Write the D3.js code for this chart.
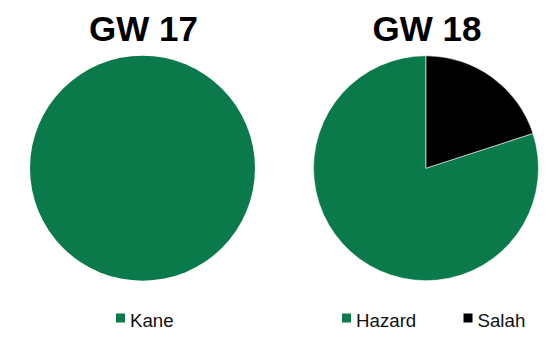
<!DOCTYPE html>
<html>
<head>
<meta charset="utf-8">
<script src="https://cdn.jsdelivr.net/npm/d3@7"></script>
<style>
  body { margin: 0; background: #fff; }
  text { font-family: "Liberation Sans", Arial, sans-serif; }
</style>
</head>
<body>
<div id="chart"></div>
<script>
// chart data
var titles = ["GW 17", "GW 18"];
var gw17Players = ["Kane"];
var gw17Values = [1];
var gw18Players = ["Hazard", "Salah"];
var gw18Values = [80, 20];

var colors = { "Kane": "#0b7a4a", "Hazard": "#0b7a4a", "Salah": "#000000" };

var width = 550, height = 347;
var svg = d3.select("#chart").append("svg")
    .attr("width", width)
    .attr("height", height);

// layout of each pie panel
var panels = [
    { title: titles[0], players: gw17Players, values: gw17Values, cx: 142.5, legendX: [116] },
    { title: titles[1], players: gw18Players, values: gw18Values, cx: 426, legendX: [342, 463.5] }
];
var cy = 168.2, radius = 112.5;

var arc = d3.arc().innerRadius(0).outerRadius(radius);

panels.forEach(function(p) {
    var g = svg.append("g");

    g.append("text")
        .attr("x", p.cx + 1)
        .attr("y", 41)
        .attr("text-anchor", "middle")
        .style("font-size", "35px")
        .style("font-weight", "bold")
        .text(p.title);

    var rows = p.players.map(function(name, i) { return { name: name, value: p.values[i] }; });

    // smaller slice first, clockwise from 12 o'clock
    var pie = d3.pie()
        .value(function(d) { return d.value; })
        .sort(function(a, b) { return a.value - b.value; });

    g.append("g")
        .attr("transform", "translate(" + p.cx + "," + cy + ")")
        .selectAll("path")
        .data(pie(rows))
        .enter().append("path")
        .attr("d", arc)
        .attr("fill", function(d) { return colors[d.data.name]; })
        .attr("stroke", rows.length > 1 ? "#fff" : "none")
        .attr("stroke-width", 0.6);

    // legend
    rows.forEach(function(d, i) {
        var lx = p.legendX[i];
        g.append("rect")
            .attr("x", lx)
            .attr("y", 313.5)
            .attr("width", 9)
            .attr("height", 9)
            .attr("fill", colors[d.name]);
        g.append("text")
            .attr("x", lx + 14)
            .attr("y", 327.3)
            .style("font-size", "18.7px")
            .attr("fill", "#111")
            .text(d.name);
    });
});
</script>
</body>
</html>
